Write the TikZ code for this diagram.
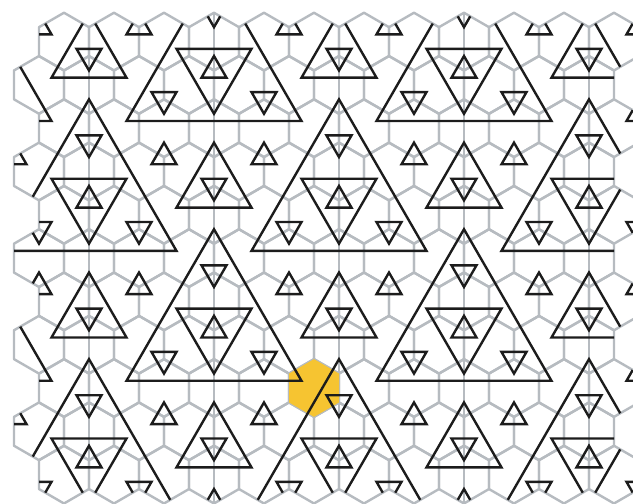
\documentclass[tikz,border=0pt]{standalone}
\usepackage{tikz}
\definecolor{GridGray}{HTML}{B6BBC0}
\definecolor{TileYellow}{HTML}{F6C431}
\definecolor{StripeBlack}{HTML}{1C1C1C}
\tikzset{
  hexcell/.style={draw=GridGray,line width=1.2pt,line join=round},
  spine/.style={draw=GridGray,line width=1.4pt},
  hilite/.style={fill=TileYellow,draw=none},
  stripe/.style={draw=StripeBlack,line width=1.2pt,line join=miter},
}
% one triangle: centre (#1,#2), side #3, #4=1 points up, #4=-1 points down
\newcommand{\trig}[4]{%
  \draw[stripe] (#1,{#2-(#4)*(#3)}) -- ({#1+(#3)/2},{#2+(#4)*(#3)/2})
    -- ({#1-(#3)/2},{#2+(#4)*(#3)/2}) -- cycle;}

\begin{document}
\begin{tikzpicture}[x=12.5pt,y=-7.2169pt]
  \useasboundingbox (-0.56,-2.882) rectangle (24.76,32.036);
  \clip (-0.56,-2.882) rectangle (24.76,32.036);

  % Grid of hexagon tiles
  \foreach \y in {0,6,...,30}
    \foreach \x in {2,4,...,24}
      \draw[hexcell] (\x,\y-2) -- (\x+1,\y-1) -- (\x+1,\y+1) -- (\x,\y+2)
        -- (\x-1,\y+1) -- (\x-1,\y-1) -- cycle;
  \foreach \y in {3,9,...,27}
    \foreach \x in {1,3,...,23}
      \draw[hexcell] (\x,\y-2) -- (\x+1,\y-1) -- (\x+1,\y+1) -- (\x,\y+2)
        -- (\x-1,\y+1) -- (\x-1,\y-1) -- cycle;

  % Everything inside the patch
  \begin{scope}
    \clip \foreach \y in {0,6,...,30} {\foreach \x in {2,4,...,24} {
        (\x,\y-2) -- (\x+1,\y-1) -- (\x+1,\y+1) -- (\x,\y+2)
        -- (\x-1,\y+1) -- (\x-1,\y-1) -- cycle}}
      \foreach \y in {3,9,...,27} {\foreach \x in {1,3,...,23} {
        (\x,\y-2) -- (\x+1,\y-1) -- (\x+1,\y+1) -- (\x,\y+2)
        -- (\x-1,\y+1) -- (\x-1,\y-1) -- cycle}};

    % Vertical diameters through the triangle columns
    \foreach \x in {3,8,13,18,23}
      \draw[spine] (\x,-3) -- (\x,33);

    % Marked tile
    \fill[hilite] (12,22) -- (13,23) -- (13,25) -- (12,26) -- (11,25) -- (11,23) -- cycle;

    % Big triangles with their nested ones
    \foreach \cx/\cy in {8/2,18/2,28/2,3/11,13/11,23/11,
        8/20,18/20,28/20,3/29,13/29,23/29,8/38,18/38} {
      \trig{\cx}{\cy}{7}{1}
      \trig{\cx}{\cy}{3}{-1}
      \trig{\cx}{\cy}{1}{1}
      \trig{\cx}{\cy-4}{1}{-1}
      \trig{\cx-2}{\cy+2}{1}{-1}
      \trig{\cx+2}{\cy+2}{1}{-1}
    }
    % Left edge: only the outer sides show
    \trig{-2}{2}{7}{1}
    \trig{-2}{20}{7}{1}

    % Middle triangles between them
    \foreach \dx/\dy in {3/1,13/1,23/1,-2/10,8/10,18/10,28/10,
        3/19,13/19,23/19,-2/28,8/28,18/28,28/28} {
      \trig{\dx}{\dy}{3}{1}
      \trig{\dx}{\dy}{1}{-1}
      \trig{\dx-2}{\dy-2}{1}{1}
      \trig{\dx+2}{\dy-2}{1}{1}
    }
  \end{scope}
\end{tikzpicture}
\end{document}
